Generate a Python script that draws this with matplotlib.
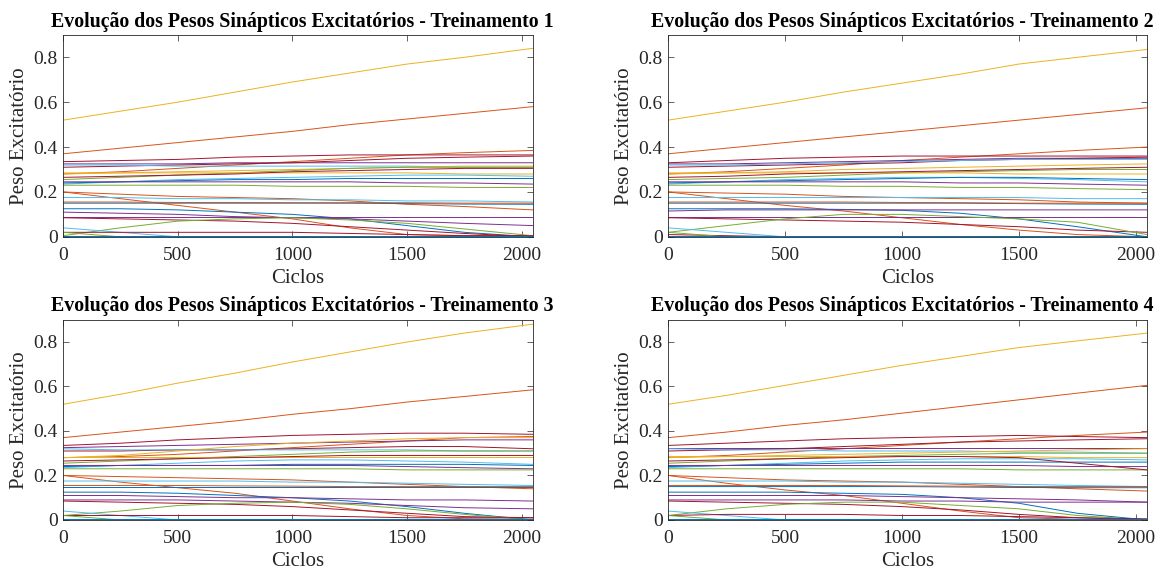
import matplotlib
matplotlib.use("Agg")
import matplotlib.pyplot as plt

# Pesos sinapticos excitatorios amostrados ao longo do treinamento
cycles = [0, 250, 500, 750, 1000, 1250, 1500, 1750, 2048]

# Ordem de cores padrao do MATLAB
matlab_colors = ['#0072BD', '#D95319', '#EDB120', '#7E2F8E',
                 '#77AC30', '#4DBEEE', '#A2142F']
line_colors = [2, 1, 1, 6, 3, 6, 5, 2, 4, 2, 5, 0, 3, 4, 1, 1,
               5, 0, 1, 0, 3, 3, 6, 4, 5, 6, 4, 0, 6]

treino1 = [
    [0.52, 0.56, 0.60, 0.645, 0.69, 0.73, 0.77, 0.80, 0.84],
    [0.37, 0.395, 0.42, 0.445, 0.47, 0.50, 0.525, 0.55, 0.58],
    [0.28, 0.29, 0.305, 0.32, 0.335, 0.35, 0.365, 0.375, 0.385],
    [0.335, 0.34, 0.345, 0.355, 0.36, 0.365, 0.365, 0.365, 0.365],
    [0.325, 0.325, 0.325, 0.33, 0.33, 0.33, 0.33, 0.33, 0.33],
    [0.31, 0.315, 0.32, 0.325, 0.33, 0.34, 0.35, 0.355, 0.36],
    [0.32, 0.32, 0.315, 0.315, 0.315, 0.315, 0.315, 0.31, 0.31],
    [0.28, 0.285, 0.29, 0.295, 0.30, 0.305, 0.31, 0.315, 0.315],
    [0.255, 0.265, 0.275, 0.285, 0.295, 0.305, 0.31, 0.31, 0.31],
    [0.285, 0.285, 0.285, 0.285, 0.285, 0.285, 0.285, 0.28, 0.28],
    [0.235, 0.245, 0.255, 0.26, 0.265, 0.27, 0.275, 0.275, 0.27],
    [0.24, 0.245, 0.25, 0.255, 0.255, 0.26, 0.26, 0.26, 0.26],
    [0.245, 0.245, 0.245, 0.245, 0.245, 0.245, 0.24, 0.24, 0.235],
    [0.23, 0.23, 0.23, 0.23, 0.225, 0.225, 0.225, 0.22, 0.22],
    [0.20, 0.19, 0.18, 0.175, 0.17, 0.16, 0.145, 0.135, 0.12],
    [0.20, 0.17, 0.14, 0.11, 0.08, 0.04, 0.01, 0.005, 0.005],
    [0.175, 0.175, 0.17, 0.17, 0.165, 0.165, 0.16, 0.16, 0.155],
    [0.15, 0.15, 0.15, 0.15, 0.15, 0.15, 0.148, 0.146, 0.145],
    [0.155, 0.155, 0.153, 0.153, 0.152, 0.152, 0.152, 0.15, 0.15],
    [0.125, 0.125, 0.12, 0.11, 0.10, 0.08, 0.05, 0.02, 0.0],
    [0.11, 0.105, 0.10, 0.09, 0.085, 0.08, 0.07, 0.06, 0.05],
    [0.09, 0.09, 0.09, 0.09, 0.09, 0.09, 0.09, 0.09, 0.09],
    [0.085, 0.08, 0.075, 0.07, 0.06, 0.045, 0.03, 0.015, 0.0],
    [0.005, 0.04, 0.07, 0.08, 0.085, 0.075, 0.06, 0.035, 0.005],
    [0.04, 0.02, 0.0, 0.0, 0.0, 0.0, 0.0, 0.0, 0.0],
    [0.02, 0.02, 0.02, 0.02, 0.02, 0.015, 0.01, 0.005, 0.005],
    [0.02, 0.0, 0.0, 0.0, 0.0, 0.0, 0.0, 0.0, 0.0],
    [0.003, 0.003, 0.003, 0.003, 0.003, 0.003, 0.003, 0.003, 0.003],
    [0.265, 0.27, 0.275, 0.28, 0.29, 0.295, 0.30, 0.305, 0.305],
]

treino2 = [
    [0.52, 0.56, 0.60, 0.645, 0.685, 0.725, 0.77, 0.80, 0.835],
    [0.37, 0.395, 0.42, 0.445, 0.47, 0.495, 0.52, 0.545, 0.575],
    [0.28, 0.29, 0.305, 0.32, 0.34, 0.355, 0.37, 0.385, 0.40],
    [0.33, 0.34, 0.35, 0.355, 0.36, 0.36, 0.36, 0.36, 0.36],
    [0.325, 0.325, 0.33, 0.335, 0.34, 0.345, 0.35, 0.35, 0.35],
    [0.31, 0.315, 0.32, 0.325, 0.33, 0.34, 0.345, 0.35, 0.355],
    [0.32, 0.32, 0.325, 0.33, 0.335, 0.34, 0.345, 0.345, 0.345],
    [0.28, 0.285, 0.29, 0.30, 0.305, 0.31, 0.315, 0.32, 0.325],
    [0.255, 0.26, 0.265, 0.275, 0.285, 0.29, 0.295, 0.30, 0.30],
    [0.285, 0.285, 0.285, 0.285, 0.285, 0.285, 0.28, 0.28, 0.28],
    [0.235, 0.245, 0.255, 0.26, 0.265, 0.265, 0.26, 0.255, 0.245],
    [0.24, 0.245, 0.25, 0.255, 0.26, 0.265, 0.265, 0.26, 0.255],
    [0.245, 0.245, 0.245, 0.245, 0.245, 0.24, 0.24, 0.235, 0.23],
    [0.23, 0.23, 0.23, 0.225, 0.225, 0.22, 0.22, 0.215, 0.21],
    [0.20, 0.195, 0.19, 0.18, 0.175, 0.17, 0.165, 0.155, 0.15],
    [0.20, 0.17, 0.14, 0.115, 0.085, 0.055, 0.03, 0.01, 0.0],
    [0.175, 0.175, 0.175, 0.175, 0.175, 0.175, 0.175, 0.17, 0.17],
    [0.15, 0.15, 0.15, 0.15, 0.15, 0.15, 0.148, 0.146, 0.145],
    [0.155, 0.155, 0.155, 0.155, 0.153, 0.152, 0.15, 0.15, 0.15],
    [0.125, 0.125, 0.125, 0.122, 0.118, 0.105, 0.08, 0.045, 0.0],
    [0.115, 0.12, 0.12, 0.12, 0.12, 0.12, 0.12, 0.12, 0.12],
    [0.09, 0.09, 0.09, 0.09, 0.09, 0.09, 0.09, 0.09, 0.09],
    [0.085, 0.08, 0.075, 0.07, 0.065, 0.055, 0.045, 0.03, 0.02],
    [0.02, 0.05, 0.08, 0.10, 0.10, 0.09, 0.08, 0.065, 0.01],
    [0.04, 0.02, 0.0, 0.0, 0.0, 0.0, 0.0, 0.0, 0.0],
    [0.01, 0.005, 0.0, 0.0, 0.0, 0.0, 0.0, 0.0, 0.0],
    [0.02, 0.0, 0.0, 0.0, 0.0, 0.0, 0.0, 0.0, 0.0],
    [0.003, 0.003, 0.003, 0.003, 0.003, 0.003, 0.003, 0.003, 0.003],
    [0.265, 0.27, 0.28, 0.285, 0.29, 0.295, 0.30, 0.305, 0.31],
]

treino3 = [
    [0.52, 0.565, 0.615, 0.66, 0.71, 0.755, 0.80, 0.84, 0.88],
    [0.37, 0.395, 0.42, 0.445, 0.475, 0.50, 0.53, 0.555, 0.585],
    [0.28, 0.285, 0.295, 0.31, 0.325, 0.34, 0.355, 0.37, 0.375],
    [0.335, 0.345, 0.36, 0.37, 0.38, 0.385, 0.39, 0.39, 0.385],
    [0.325, 0.33, 0.335, 0.34, 0.345, 0.35, 0.355, 0.36, 0.36],
    [0.31, 0.31, 0.315, 0.315, 0.32, 0.325, 0.33, 0.33, 0.32],
    [0.32, 0.315, 0.315, 0.315, 0.315, 0.315, 0.315, 0.31, 0.31],
    [0.28, 0.29, 0.31, 0.33, 0.345, 0.355, 0.365, 0.37, 0.37],
    [0.255, 0.265, 0.275, 0.285, 0.295, 0.305, 0.31, 0.31, 0.31],
    [0.285, 0.285, 0.285, 0.285, 0.285, 0.285, 0.285, 0.285, 0.285],
    [0.235, 0.245, 0.255, 0.265, 0.27, 0.27, 0.265, 0.26, 0.25],
    [0.24, 0.245, 0.245, 0.245, 0.25, 0.25, 0.25, 0.25, 0.245],
    [0.245, 0.245, 0.245, 0.245, 0.245, 0.245, 0.24, 0.235, 0.23],
    [0.23, 0.23, 0.23, 0.23, 0.23, 0.23, 0.225, 0.225, 0.225],
    [0.20, 0.195, 0.19, 0.185, 0.18, 0.17, 0.16, 0.15, 0.14],
    [0.20, 0.17, 0.145, 0.12, 0.085, 0.05, 0.02, 0.005, 0.003],
    [0.175, 0.175, 0.175, 0.175, 0.17, 0.17, 0.165, 0.16, 0.155],
    [0.15, 0.15, 0.15, 0.15, 0.15, 0.15, 0.15, 0.15, 0.15],
    [0.155, 0.155, 0.155, 0.153, 0.152, 0.15, 0.15, 0.15, 0.15],
    [0.125, 0.125, 0.12, 0.11, 0.10, 0.085, 0.06, 0.03, 0.0],
    [0.11, 0.11, 0.105, 0.10, 0.10, 0.095, 0.09, 0.09, 0.085],
    [0.09, 0.09, 0.09, 0.085, 0.08, 0.075, 0.065, 0.055, 0.05],
    [0.085, 0.08, 0.075, 0.07, 0.06, 0.045, 0.03, 0.015, 0.01],
    [0.02, 0.04, 0.065, 0.075, 0.08, 0.07, 0.05, 0.025, 0.0],
    [0.04, 0.02, 0.0, 0.0, 0.0, 0.0, 0.0, 0.0, 0.0],
    [0.02, 0.02, 0.02, 0.02, 0.02, 0.015, 0.01, 0.01, 0.01],
    [0.02, 0.0, 0.0, 0.0, 0.0, 0.0, 0.0, 0.0, 0.0],
    [0.003, 0.003, 0.003, 0.003, 0.003, 0.003, 0.003, 0.003, 0.003],
    [0.265, 0.27, 0.275, 0.28, 0.285, 0.29, 0.29, 0.29, 0.29],
]

treino4 = [
    [0.52, 0.56, 0.605, 0.65, 0.695, 0.735, 0.775, 0.805, 0.84],
    [0.37, 0.395, 0.425, 0.45, 0.48, 0.51, 0.54, 0.57, 0.605],
    [0.28, 0.29, 0.305, 0.32, 0.335, 0.35, 0.365, 0.38, 0.395],
    [0.335, 0.345, 0.355, 0.365, 0.37, 0.375, 0.38, 0.375, 0.37],
    [0.325, 0.325, 0.325, 0.325, 0.325, 0.325, 0.325, 0.325, 0.325],
    [0.31, 0.315, 0.32, 0.33, 0.34, 0.35, 0.355, 0.36, 0.365],
    [0.32, 0.315, 0.315, 0.31, 0.31, 0.31, 0.305, 0.305, 0.30],
    [0.28, 0.285, 0.29, 0.295, 0.30, 0.305, 0.31, 0.315, 0.32],
    [0.255, 0.265, 0.275, 0.285, 0.29, 0.295, 0.30, 0.30, 0.30],
    [0.285, 0.285, 0.285, 0.285, 0.285, 0.285, 0.285, 0.28, 0.28],
    [0.235, 0.245, 0.255, 0.265, 0.27, 0.275, 0.275, 0.275, 0.27],
    [0.24, 0.245, 0.25, 0.255, 0.26, 0.26, 0.26, 0.26, 0.26],
    [0.245, 0.245, 0.245, 0.245, 0.245, 0.245, 0.245, 0.24, 0.24],
    [0.23, 0.23, 0.23, 0.23, 0.23, 0.23, 0.225, 0.225, 0.225],
    [0.20, 0.19, 0.18, 0.175, 0.17, 0.16, 0.15, 0.14, 0.13],
    [0.20, 0.165, 0.135, 0.11, 0.075, 0.04, 0.01, 0.003, 0.003],
    [0.175, 0.175, 0.175, 0.17, 0.17, 0.165, 0.16, 0.155, 0.15],
    [0.15, 0.15, 0.15, 0.15, 0.15, 0.148, 0.146, 0.145, 0.145],
    [0.155, 0.155, 0.155, 0.155, 0.153, 0.152, 0.15, 0.15, 0.15],
    [0.125, 0.125, 0.125, 0.12, 0.115, 0.10, 0.075, 0.03, 0.0],
    [0.11, 0.11, 0.11, 0.11, 0.105, 0.10, 0.095, 0.09, 0.08],
    [0.09, 0.09, 0.09, 0.09, 0.085, 0.085, 0.08, 0.08, 0.08],
    [0.085, 0.08, 0.075, 0.07, 0.06, 0.045, 0.025, 0.01, 0.0],
    [0.02, 0.05, 0.07, 0.08, 0.08, 0.065, 0.05, 0.02, 0.0],
    [0.04, 0.02, 0.0, 0.0, 0.0, 0.0, 0.0, 0.0, 0.0],
    [0.02, 0.025, 0.025, 0.025, 0.02, 0.02, 0.015, 0.01, 0.005],
    [0.02, 0.0, 0.0, 0.0, 0.0, 0.0, 0.0, 0.0, 0.0],
    [0.003, 0.003, 0.003, 0.003, 0.003, 0.003, 0.003, 0.003, 0.003],
    [0.265, 0.27, 0.275, 0.28, 0.285, 0.285, 0.28, 0.255, 0.225],
]

treinos = [treino1, treino2, treino3, treino4]
x_ticks = [0, 500, 1000, 1500, 2000]
y_ticks = [0, 0.2, 0.4, 0.6, 0.8]
y_tick_labels = ['0', '0.2', '0.4', '0.6', '0.8']

plt.rcParams['font.family'] = ['Liberation Serif', 'DejaVu Serif']

fig = plt.figure(figsize=(11.68, 5.72), dpi=100)

# posicoes dos eixos em fracao da figura [esquerda, base, largura, altura]
positions = [
    [0.054, 0.586, 0.402, 0.353],
    [0.572, 0.586, 0.410, 0.353],
    [0.054, 0.091, 0.402, 0.350],
    [0.572, 0.091, 0.410, 0.350],
]

edge = '#262626'
for i, (pesos, pos) in enumerate(zip(treinos, positions)):
    ax = fig.add_axes(pos)
    for c, w in zip(line_colors, pesos):
        ax.plot(cycles, w, color=matlab_colors[c], linewidth=0.7)
    ax.set_xlim(0, 2048)
    ax.set_ylim(0, 0.9)
    ax.set_xticks(x_ticks)
    ax.set_yticks(y_ticks)
    ax.set_yticklabels(y_tick_labels)
    ax.tick_params(direction='in', length=4, width=0.5, colors=edge,
                   labelsize=14, top=True, right=True)
    ax.tick_params(axis='x', pad=7)
    ax.tick_params(axis='y', pad=4)
    for s in ax.spines.values():
        s.set_color(edge)
        s.set_linewidth(0.6)
    # titulo levemente deslocado para nao sair da figura na coluna da direita
    ax.set_title(f'Evolução dos Pesos Sinápticos Excitatórios - Treinamento {i + 1}',
                 fontsize=14.3, fontweight='bold', pad=6,
                 x=0.51 if i % 2 == 0 else 0.49)
    ax.set_xlabel('Ciclos', fontsize=15, color=edge, labelpad=4)
    ax.set_ylabel('Peso Excitatório', fontsize=15, color=edge, labelpad=3)

fig.savefig('out.png', dpi=100, facecolor='white')
